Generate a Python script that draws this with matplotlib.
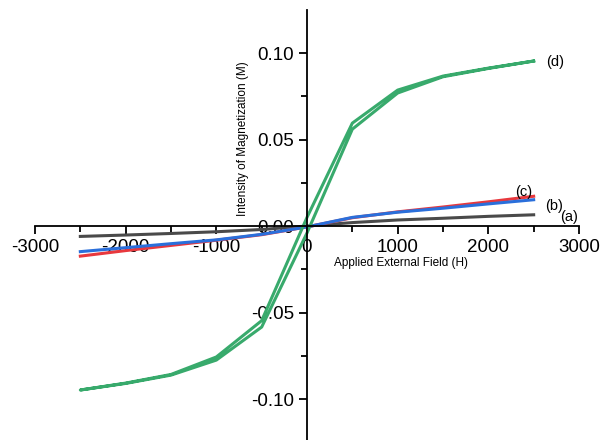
import matplotlib.pyplot as plt
from matplotlib.ticker import MultipleLocator

plt.rcParams["font.family"] = ["Liberation Sans", "DejaVu Sans"]

field = [-2500, -2000, -1500, -1000, -500, 0, 500, 1000, 1500, 2000, 2500]

m_a = [-0.0060, -0.0052, -0.0043, -0.0033, -0.0020, 0.0, 0.0020, 0.0035, 0.0045, 0.0056, 0.0065]
m_b = [-0.0148, -0.0125, -0.0102, -0.0080, -0.0048, -0.0005, 0.0050, 0.0080, 0.0103, 0.0128, 0.0152]
m_c = [-0.0174, -0.0142, -0.0112, -0.0082, -0.0050, -0.0005, 0.0048, 0.0082, 0.0110, 0.0140, 0.0172]

# loop (d): descending branch then ascending branch
field_down = [2500, 2000, 1500, 1000, 500, 0, -500, -1000, -1500, -2000, -2500]
m_d_down = [0.0954, 0.0913, 0.0867, 0.0786, 0.0595, 0.005, -0.0547, -0.0757, -0.0858, -0.0908, -0.0948]
field_up = [-2500, -2000, -1500, -1000, -500, 0, 500, 1000, 1500, 2000, 2500]
m_d_up = [-0.0948, -0.0910, -0.0862, -0.0775, -0.0584, -0.004, 0.0560, 0.0769, 0.0863, 0.0911, 0.0954]

fig = plt.figure(figsize=(6, 4.4), dpi=100)
ax = fig.add_axes([35 / 600, 0, 544 / 600, 430 / 440])

ax.plot(field, m_a, color="#4a4a4a", lw=2.2)
ax.plot(field, m_c, color="#e8383d", lw=2.2)
ax.plot(field, m_b, color="#2a6fdb", lw=2.2)
ax.plot(field_down + field_up, m_d_down + m_d_up, color="#38aa6c", lw=2.2)

ax.text(2640, 0.095, "(d)", fontsize=10.5, va="center")
ax.text(2300, 0.0195, "(c)", fontsize=10.5, va="center")
ax.text(2630, 0.0118, "(b)", fontsize=10.5, va="center")
ax.text(2790, 0.0055, "(a)", fontsize=10.5, va="center")

ax.set_xlim(-3000, 3000)
ax.set_ylim(-0.1237, 0.1249)

for side in ["top", "right"]:
    ax.spines[side].set_visible(False)
ax.spines["left"].set_position(("data", 0))
ax.spines["bottom"].set_position(("data", 0))
ax.spines["left"].set_linewidth(1.3)
ax.spines["bottom"].set_linewidth(1.3)

ax.xaxis.set_major_locator(MultipleLocator(1000))
ax.xaxis.set_minor_locator(MultipleLocator(500))
ax.yaxis.set_major_locator(MultipleLocator(0.05))
ax.yaxis.set_minor_locator(MultipleLocator(0.025))
ax.tick_params(which="both", direction="out", width=1.3, labelsize=13.5)
ax.tick_params(which="major", length=6)
ax.tick_params(which="minor", length=4)
ax.set_xticks([-3000, -2000, -1000, 0, 1000, 2000, 3000])
ax.set_xticklabels(["-3000", "-2000", "-1000", "0", "1000", "2000", "3000"])
ax.set_yticks([-0.10, -0.05, 0.0, 0.05, 0.10])
ax.set_yticklabels(["-0.10", "-0.05", "0.00", "0.05", "0.10"])

fig.text(401 / 600, 1 - 263 / 440, "Applied External Field (H)", fontsize=8.5,
         ha="center", va="center")
fig.text(243 / 600, 1 - 139 / 440, "Intensity of Magnetization (M)", fontsize=8.5,
         ha="center", va="center", rotation=90)

plt.savefig("out.png", dpi=100)
